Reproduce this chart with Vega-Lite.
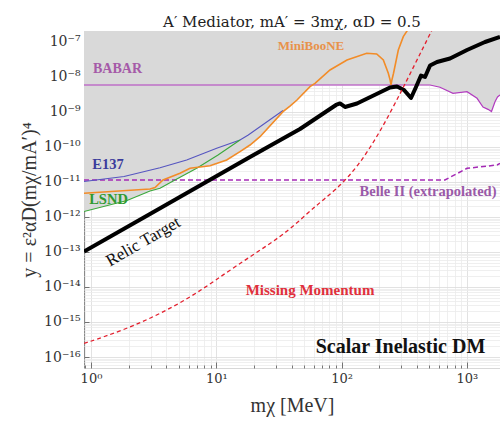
{
"$schema":"https://vega.github.io/schema/vega-lite/v6.json",
"width":416,"height":337,
"autosize":{"type":"none"},
"padding":{"left":84,"top":31,"right":0,"bottom":53},
"background":"white",
"config":{"view":{"stroke":"#8a8a8a","strokeWidth":1},"font":"Liberation Serif","title":{"font":"DejaVu Serif"}},
"title":{"text":"A′  Mediator,  mA′ = 3mχ,  αD = 0.5","font":"DejaVu Serif","fontSize":15,"fontWeight":"normal","color":"#222","offset":0,"dy":6},
"datasets":{
"relic":[{"x":0.879,"y":1.03e-13},{"x":2.957,"y":1.22e-12},{"x":18.58,"y":5.18e-11},{"x":46.56,"y":3.27e-10},{"x":90.2,"y":1.585e-9},{"x":97.1,"y":1.75e-9},{"x":106.4,"y":1.39e-9},{"x":132.7,"y":1.75e-9},{"x":243.3,"y":5.01e-9},{"x":276.7,"y":5.35e-9},{"x":314.8,"y":4.25e-9},{"x":358,"y":2.51e-9},{"x":392.6,"y":5.18e-9},{"x":430.2,"y":1.1e-8},{"x":463.1,"y":1.0e-8},{"x":507.8,"y":2.13e-8},{"x":577,"y":2.68e-8},{"x":733,"y":3.38e-8},{"x":1002,"y":5.9e-8},{"x":1394,"y":1.0e-7},{"x":1837,"y":1.39e-7}],
"babar":[{"x":0.879,"y":5.91e-9},{"x":507.8,"y":5.91e-9},{"x":610,"y":5.08e-9},{"x":774,"y":3.42e-9},{"x":1002,"y":3.8e-9},{"x":1205,"y":2.46e-9},{"x":1344,"y":1.39e-9},{"x":1473,"y":1.19e-9},{"x":1571,"y":1.03e-9},{"x":1676,"y":1.97e-9},{"x":1755,"y":2.68e-9},{"x":1837,"y":3.06e-9}],
"lsnd":[{"x":0.879,"y":1.44e-12},{"x":1.938,"y":2.96e-12},{"x":2.957,"y":5.53e-12},{"x":3.554,"y":6.6e-12},{"x":4.68,"y":1.14e-11},{"x":6.976,"y":2.46e-11},{"x":10.32,"y":5.91e-11},{"x":15.46,"y":1.585e-10}],
"e137":[{"x":0.879,"y":1.03e-11},{"x":1.834,"y":1.44e-11},{"x":3.554,"y":2.56e-11},{"x":5.8,"y":4.25e-11},{"x":10.07,"y":9.18e-11},{"x":15.46,"y":1.585e-10},{"x":18.0,"y":2.2e-10},{"x":34.06,"y":1.1e-9}],
"mb":[{"x":0.879,"y":4.75e-12},{"x":2.957,"y":6.31e-12},{"x":3.242,"y":6.9e-12},{"x":3.755,"y":1.14e-11},{"x":5.13,"y":1.77e-11},{"x":6.17,"y":2.46e-11},{"x":8.91,"y":2.92e-11},{"x":12.1,"y":4.25e-11},{"x":15.46,"y":7.34e-11},{"x":18.58,"y":1.14e-10},{"x":22.33,"y":1.97e-10},{"x":34.06,"y":1.02e-9},{"x":38.73,"y":1.48e-9},{"x":44.06,"y":2.2e-9},{"x":55.96,"y":5.28e-9},{"x":61.3,"y":6.6e-9},{"x":80.8,"y":1.585e-8},{"x":110.4,"y":3.06e-8},{"x":158.6,"y":4.75e-8},{"x":190.6,"y":4.54e-8},{"x":215.3,"y":3.06e-8},{"x":235.9,"y":1.28e-8},{"x":243.3,"y":8.5e-9},{"x":247.8,"y":5.91e-9},{"x":252.6,"y":8.5e-9},{"x":259.6,"y":1.28e-8},{"x":283.5,"y":5.9e-8},{"x":310.7,"y":1.42e-7},{"x":340.6,"y":2.35e-7}],
"mm":[{"x":0.879,"y":2.43e-16},{"x":1.834,"y":5.9e-16},{"x":3.62,"y":1.75e-15},{"x":7.01,"y":6.52e-15},{"x":13.84,"y":3.73e-14},{"x":34.7,"y":3.06e-13},{"x":52.95,"y":1.26e-12},{"x":71.1,"y":3.06e-12},{"x":110.4,"y":1.14e-11},{"x":168.6,"y":8.77e-11},{"x":243.3,"y":9.06e-10},{"x":332.6,"y":8.2e-9},{"x":438.3,"y":5.9e-8},{"x":526.5,"y":2.2e-7}],
"belle":[{"x":0.879,"y":1.14e-11},{"x":668,"y":1.14e-11},{"x":1002,"y":2.46e-11},{"x":1739,"y":3.06e-11},{"x":1837,"y":3.42e-11}]
},
"encoding":{
"x":{"field":"x","type":"quantitative","scale":{"type":"log","domain":[0.8793,1837],"nice":false,"zero":false},
 "axis":{"values":[0.9,1,2,3,4,5,6,7,8,9,10,20,30,40,50,60,70,80,90,100,200,300,400,500,600,700,800,900,1000],
  "labelExpr":"abs(log(datum.value)/LN10 - round(log(datum.value)/LN10)) < 0.01 ? '10' + replace(replace(replace(replace(replace(replace(replace(replace(replace(replace(replace(toString(round(log(datum.value)/LN10)),regexp('-','g'),'⁻'),regexp('0','g'),'⁰'),regexp('1','g'),'¹'),regexp('2','g'),'²'),regexp('3','g'),'³'),regexp('4','g'),'⁴'),regexp('5','g'),'⁵'),regexp('6','g'),'⁶'),regexp('7','g'),'⁷'),regexp('8','g'),'⁸'),regexp('9','g'),'⁹') : ''",
  "labelOverlap":false,"labelFlush":false,"domain":false,
  "tickSize":{"condition":{"test":"abs(log(datum.value)/LN10 - round(log(datum.value)/LN10)) < 0.01","value":-6},"value":-3},
  "tickColor":"#555","tickWidth":0.8,
  "gridColor":{"condition":{"test":"abs(log(datum.value)/LN10 - round(log(datum.value)/LN10)) < 0.01","value":"#dadada"},"value":"#ebebeb"},
  "gridWidth":0.8,
  "labelPadding":10,"labelFont":"DejaVu Serif","labelFontSize":13,"labelColor":"#333",
  "title":"mχ [MeV]","titleFont":"Liberation Serif","titleFontSize":20,"titleFontWeight":"normal","titleColor":"#333","titlePadding":7}},
"y":{"field":"y","type":"quantitative","scale":{"type":"log","domain":[4.85e-17,2.06e-7],"nice":false,"zero":false},
 "axis":{"values":[5e-17,6e-17,7e-17,8e-17,9e-17,1e-16,2e-16,3e-16,4e-16,5e-16,6e-16,7e-16,8e-16,9e-16,1e-15,2e-15,3e-15,4e-15,5e-15,6e-15,7e-15,8e-15,9e-15,1e-14,2e-14,3e-14,4e-14,5e-14,6e-14,7e-14,8e-14,9e-14,1e-13,2e-13,3e-13,4e-13,5e-13,6e-13,7e-13,8e-13,9e-13,1e-12,2e-12,3e-12,4e-12,5e-12,6e-12,7e-12,8e-12,9e-12,1e-11,2e-11,3e-11,4e-11,5e-11,6e-11,7e-11,8e-11,9e-11,1e-10,2e-10,3e-10,4e-10,5e-10,6e-10,7e-10,8e-10,9e-10,1e-9,2e-9,3e-9,4e-9,5e-9,6e-9,7e-9,8e-9,9e-9,1e-8,2e-8,3e-8,4e-8,5e-8,6e-8,7e-8,8e-8,9e-8,1e-7,2e-7],
  "labelExpr":"abs(log(datum.value)/LN10 - round(log(datum.value)/LN10)) < 0.01 ? '10' + replace(replace(replace(replace(replace(replace(replace(replace(replace(replace(replace(toString(round(log(datum.value)/LN10)),regexp('-','g'),'⁻'),regexp('0','g'),'⁰'),regexp('1','g'),'¹'),regexp('2','g'),'²'),regexp('3','g'),'³'),regexp('4','g'),'⁴'),regexp('5','g'),'⁵'),regexp('6','g'),'⁶'),regexp('7','g'),'⁷'),regexp('8','g'),'⁸'),regexp('9','g'),'⁹') : ''",
  "labelOverlap":false,"labelFlush":false,"domain":false,
  "tickSize":{"condition":{"test":"abs(log(datum.value)/LN10 - round(log(datum.value)/LN10)) < 0.01","value":-5},"value":0},
  "tickColor":"#555","tickWidth":0.8,
  "gridColor":{"condition":{"test":"abs(log(datum.value)/LN10 - round(log(datum.value)/LN10)) < 0.01","value":"#dadada"},"value":"#ebebeb"},
  "gridWidth":0.8,
  "labelPadding":9,"labelFont":"DejaVu Serif","labelFontSize":14,"labelColor":"#333",
  "title":"y = ε²αD(mχ/mA′)⁴","titleFont":"Liberation Serif","titleFontSize":20,"titleFontWeight":"normal","titleColor":"#333","titlePadding":4}}
},
"layer":[
{"data":{"name":"lsnd"},"mark":{"type":"area","color":"#d9d9d9","clip":true},"encoding":{"y2":{"datum":2.06e-7}}},
{"data":{"name":"e137"},"mark":{"type":"area","color":"#d9d9d9","clip":true},"encoding":{"y2":{"datum":2.06e-7}}},
{"data":{"name":"mb"},"mark":{"type":"area","color":"#d9d9d9","clip":true},"encoding":{"y2":{"datum":2.06e-7}}},
{"data":{"name":"babar"},"mark":{"type":"area","color":"#d9d9d9","clip":true},"encoding":{"y2":{"datum":2.06e-7}}},
{"data":{"name":"babar"},"mark":{"type":"line","color":"#b23cbf","strokeWidth":1.2,"clip":true},"encoding":{}},
{"data":{"name":"belle"},"mark":{"type":"line","color":"#a52ab5","strokeWidth":1.5,"strokeDash":[5,3],"clip":true},"encoding":{}},
{"data":{"name":"e137"},"mark":{"type":"line","color":"#5555c0","strokeWidth":1.1,"clip":true},"encoding":{}},
{"data":{"name":"lsnd"},"mark":{"type":"line","color":"#3aa83a","strokeWidth":1.1,"clip":true},"encoding":{}},
{"data":{"name":"mb"},"mark":{"type":"line","color":"#f28c28","strokeWidth":1.6,"clip":true},"encoding":{}},
{"data":{"name":"relic"},"mark":{"type":"line","color":"#000000","strokeWidth":4,"clip":true,"strokeJoin":"round"},"encoding":{}},
{"data":{"name":"mm"},"mark":{"type":"line","color":"#e3202e","strokeWidth":1.3,"strokeDash":[4,3],"interpolate":"basis","clip":true},"encoding":{}},
{"data":{"values":[{"x":57.0,"y":7.69e-8,"t":"MiniBooNE"}]},"mark":{"type":"text","color":"#e8924a","font":"Liberation Serif","fontSize":13,"fontWeight":"bold"},"encoding":{"text":{"field":"t"}}},
{"data":{"values":[{"x":1.627,"y":1.69e-8,"t":"BABAR"}]},"mark":{"type":"text","color":"#a55aa8","font":"Liberation Serif","fontSize":14,"fontWeight":"bold"},"encoding":{"text":{"field":"t"}}},
{"data":{"values":[{"x":1.367,"y":3.06e-11,"t":"E137"}]},"mark":{"type":"text","color":"#3b3b9c","font":"Liberation Serif","fontSize":14.5,"fontWeight":"bold"},"encoding":{"text":{"field":"t"}}},
{"data":{"values":[{"x":1.38,"y":3.06e-12,"t":"LSND"}]},"mark":{"type":"text","color":"#2f9a2f","font":"Liberation Serif","fontSize":14.5,"fontWeight":"bold"},"encoding":{"text":{"field":"t"}}},
{"data":{"values":[{"x":2.615,"y":1.97e-13,"t":"Relic Target"}]},"mark":{"type":"text","color":"#111111","font":"Liberation Serif","fontSize":17,"fontWeight":"normal","angle":-30},"encoding":{"text":{"field":"t"}}},
{"data":{"values":[{"x":55.96,"y":8.2e-15,"t":"Missing Momentum"}]},"mark":{"type":"text","color":"#e0303c","font":"Liberation Serif","fontSize":15,"fontWeight":"bold"},"encoding":{"text":{"field":"t"}}},
{"data":{"values":[{"x":489.4,"y":5.18e-12,"t":"Belle II (extrapolated)"}]},"mark":{"type":"text","color":"#9a5aa8","font":"Liberation Serif","fontSize":14.5,"fontWeight":"bold"},"encoding":{"text":{"field":"t"}}},
{"data":{"values":[{"x":295,"y":1.97e-16,"t":"Scalar Inelastic DM"}]},"mark":{"type":"text","color":"#111111","font":"Liberation Serif","fontSize":20,"fontWeight":"bold"},"encoding":{"text":{"field":"t"}}}
]
}
